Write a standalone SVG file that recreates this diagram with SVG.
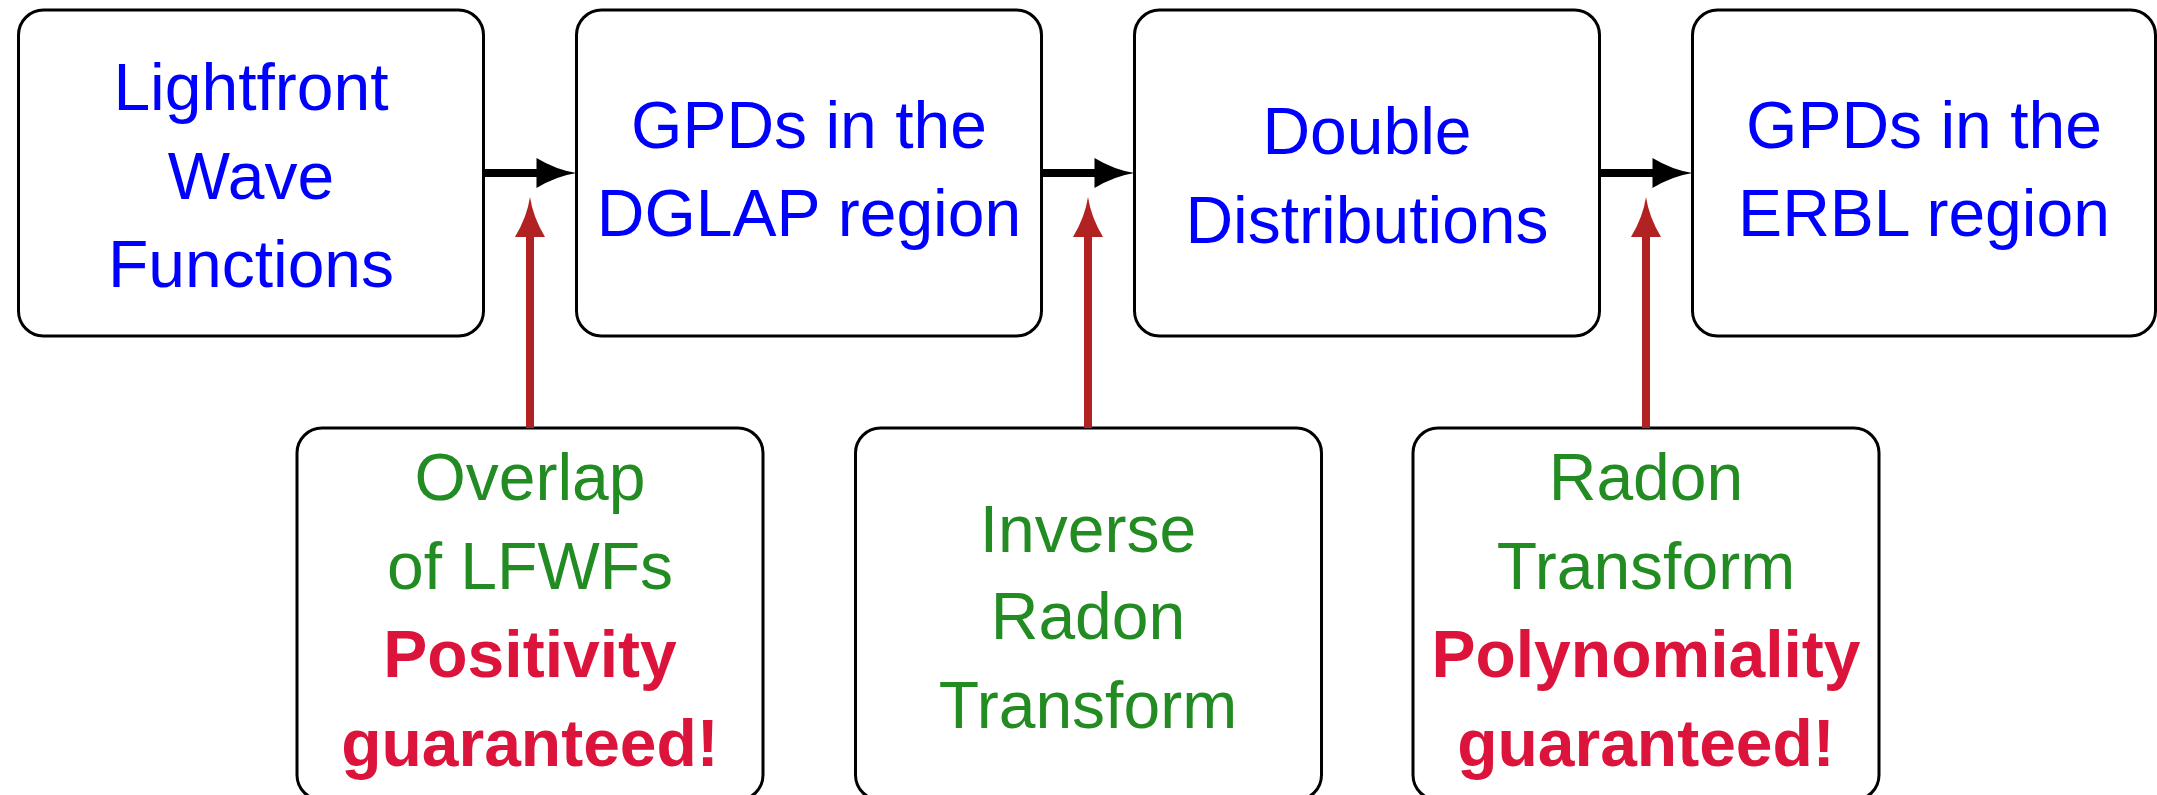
<svg xmlns="http://www.w3.org/2000/svg" width="2157" height="795" viewBox="0 0 2157 795">
  <style>
    .box { fill: #ffffff; stroke: #000000; stroke-width: 3; }
    .t { font-family: "Liberation Sans", Arial, sans-serif; font-size: 66px; text-anchor: middle; }
    .blue { fill: #0000ff; }
    .green { fill: #228b22; }
    .bold { fill: #dc143c; font-weight: bold; }
    .flow { stroke: #000000; stroke-width: 8; fill: none; }
    .feed { stroke: #b22222; stroke-width: 8; fill: none; }
  </style>
  <defs>
    <!-- curved-flank arrowheads, tip at the origin -->
    <path id="headRight" d="M-40,-15 Q-20,-3 0,0 Q-20,3 -40,15 Z"/>
    <path id="headUp" d="M-15,40 Q-3,20 0,0 Q3,20 15,40 Z"/>
  </defs>

  <rect width="2157" height="795" fill="#ffffff"/>

  <!-- top row -->
  <g id="lfwf">
    <rect class="box" x="18.5" y="10" width="465" height="326" rx="25"/>
    <text class="t blue" x="251" y="110">Lightfront</text>
    <text class="t blue" x="251" y="199">Wave</text>
    <text class="t blue" x="251" y="287">Functions</text>
  </g>
  <g id="gpd-dglap">
    <rect class="box" x="576.5" y="10" width="465" height="326" rx="25"/>
    <text class="t blue" x="809" y="148">GPDs in the</text>
    <text class="t blue" x="809" y="236">DGLAP region</text>
  </g>
  <g id="dd">
    <rect class="box" x="1134.5" y="10" width="465" height="326" rx="25"/>
    <text class="t blue" x="1367" y="154">Double</text>
    <text class="t blue" x="1367" y="243">Distributions</text>
  </g>
  <g id="gpd-erbl">
    <rect class="box" x="1692.5" y="10" width="463" height="326" rx="25"/>
    <text class="t blue" x="1924" y="148">GPDs in the</text>
    <text class="t blue" x="1924" y="236">ERBL region</text>
  </g>

  <!-- bottom row -->
  <g id="overlap">
    <rect class="box" x="297" y="428" width="466" height="372" rx="25"/>
    <text class="t green" x="530" y="500">Overlap</text>
    <text class="t green" x="530" y="589">of LFWFs</text>
    <text class="t bold" x="530" y="677">Positivity</text>
    <text class="t bold" x="530" y="766">guaranteed!</text>
  </g>
  <g id="inverse-radon">
    <rect class="box" x="855.5" y="428" width="466" height="372" rx="25"/>
    <text class="t green" x="1088" y="552">Inverse</text>
    <text class="t green" x="1088" y="639">Radon</text>
    <text class="t green" x="1088" y="728">Transform</text>
  </g>
  <g id="radon">
    <rect class="box" x="1413" y="428" width="466" height="372" rx="25"/>
    <text class="t green" x="1646" y="500">Radon</text>
    <text class="t green" x="1646" y="589">Transform</text>
    <text class="t bold" x="1646" y="677">Polynomiality</text>
    <text class="t bold" x="1646" y="766">guaranteed!</text>
  </g>

  <!-- connectors -->
  <g id="connectors">
    <line class="flow" x1="483.5" y1="173" x2="538" y2="173"/>
    <use href="#headRight" x="576.5" y="173" fill="#000000"/>
    <line class="flow" x1="1041.5" y1="173" x2="1096" y2="173"/>
    <use href="#headRight" x="1134.5" y="173" fill="#000000"/>
    <line class="flow" x1="1599.5" y1="173" x2="1654" y2="173"/>
    <use href="#headRight" x="1692.5" y="173" fill="#000000"/>

    <line class="feed" x1="530" y1="428" x2="530" y2="235"/>
    <use href="#headUp" x="530" y="197" fill="#b22222"/>
    <line class="feed" x1="1088" y1="428" x2="1088" y2="235"/>
    <use href="#headUp" x="1088" y="197" fill="#b22222"/>
    <line class="feed" x1="1646" y1="428" x2="1646" y2="235"/>
    <use href="#headUp" x="1646" y="197" fill="#b22222"/>
  </g>
</svg>
